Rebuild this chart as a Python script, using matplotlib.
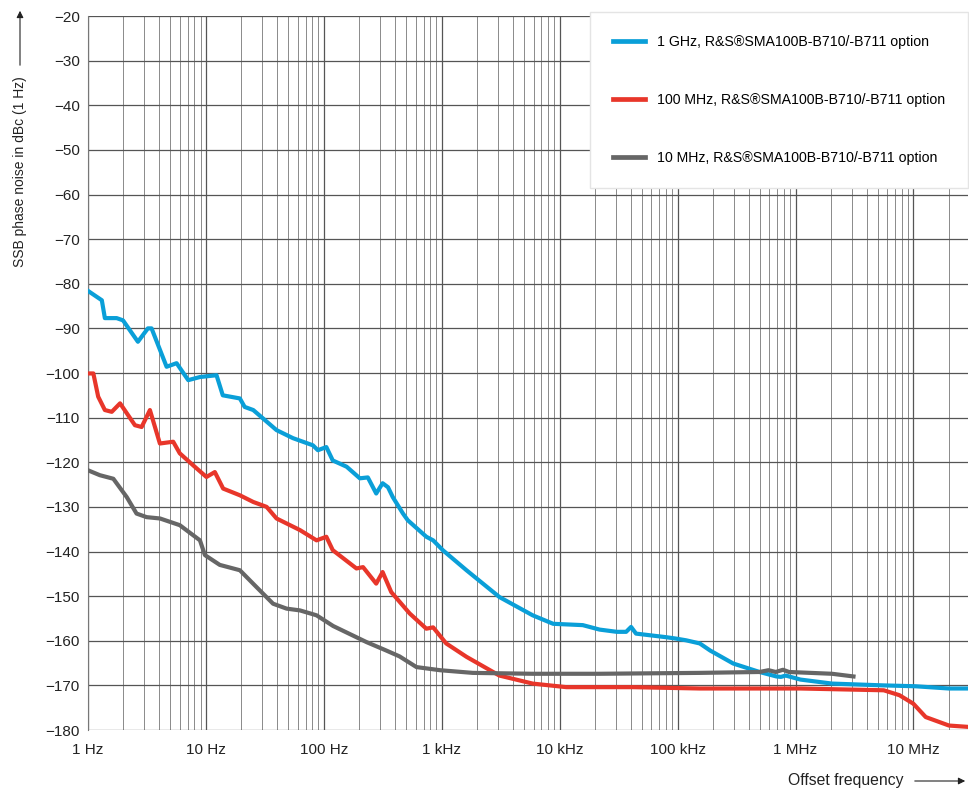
import matplotlib.pyplot as plt
from matplotlib.ticker import FixedLocator, LogLocator, NullFormatter
import numpy as np

plt.rcParams["font.family"] = ["Liberation Sans", "DejaVu Sans"]

# SSB phase noise: offset frequency in Hz, noise in dBc (1 Hz)
blue_f = [1.0, 1.31, 1.39, 1.75, 1.98, 2.65, 3.22, 3.46, 4.64, 5.64, 7.08, 8.9,
          12.3, 13.9, 19.4, 21.3, 25.2, 39.7, 54.7, 80.7, 89, 105, 119, 156,
          202, 236, 278, 315, 350, 384, 469, 515, 740, 845, 1020, 1620, 3080,
          5900, 8800, 15700, 21800, 30500, 36600, 40300, 44400, 79700, 96000,
          118000, 154000, 189000, 296000, 495000, 688000, 752000, 826000,
          1100000, 2040000, 5500000, 10400000, 20000000, 29000000]
blue_db = [-81.6, -83.7, -87.7, -87.7, -88.2, -93.0, -90.0, -90.0, -98.6, -97.8,
           -101.6, -100.9, -100.5, -105.0, -105.7, -107.6, -108.3, -112.8,
           -114.6, -116.2, -117.3, -116.6, -119.6, -121.0, -123.6, -123.4,
           -127.0, -124.7, -125.6, -127.8, -131.5, -133.0, -136.7, -137.5,
           -139.7, -144.2, -150.2, -154.3, -156.2, -156.5, -157.5, -158.0,
           -158.0, -156.9, -158.4, -159.2, -159.5, -159.9, -160.6, -162.2,
           -165.1, -167.0, -168.0, -168.1, -167.8, -168.7, -169.6, -170.0,
           -170.2, -170.7, -170.7]

red_f = [1.0, 1.11, 1.22, 1.39, 1.59, 1.87, 2.5, 2.85, 3.35, 4.07, 5.28, 6.0,
         7.8, 10.1, 11.9, 14.0, 19.4, 25.2, 32.7, 39.7, 62.7, 86.7, 105, 119,
         189, 215, 278, 315, 373, 535, 740, 845, 1090, 1620, 3080, 5900, 11400,
         42000, 154000, 1100000, 5600000, 7600000, 9970000, 12700000,
         20000000, 29000000]
red_db = [-100.1, -100.1, -105.3, -108.3, -108.7, -106.8, -111.7, -112.1,
          -108.3, -115.8, -115.4, -118.0, -120.7, -123.3, -122.2, -125.9,
          -127.4, -128.9, -130.0, -132.6, -135.2, -137.5, -136.7, -139.7,
          -143.8, -143.5, -147.2, -144.6, -149.1, -153.9, -157.3, -157.0,
          -160.6, -163.6, -167.8, -169.6, -170.4, -170.4, -170.7, -170.7,
          -171.1, -172.2, -174.1, -177.1, -179.0, -179.3]

gray_f = [1.0, 1.26, 1.64, 2.13, 2.58, 3.14, 4.08, 6.0, 8.9, 9.8, 13.1, 19.4,
          26, 37.1, 48.3, 62.7, 86.7, 120, 230, 339, 438, 610, 965, 1830, 5900,
          21800, 154000, 495000, 590000, 680000, 783000, 880000, 2040000,
          3100000]
gray_db = [-121.8, -122.9, -123.7, -127.8, -131.5, -132.3, -132.6, -134.1,
           -137.5, -140.8, -143.0, -144.2, -147.6, -151.7, -152.8, -153.2,
           -154.3, -156.7, -160.3, -162.2, -163.5, -165.9, -166.6, -167.2,
           -167.4, -167.4, -167.2, -167.0, -166.6, -167.0, -166.5, -167.0,
           -167.4, -168.0]

labels = [
    "1 GHz, R&S\u00aeSMA100B-B710/-B711 option",
    "100 MHz, R&S\u00aeSMA100B-B710/-B711 option",
    "10 MHz, R&S\u00aeSMA100B-B710/-B711 option",
]
colors = ["#0a9fd8", "#e8362a", "#666666"]

x_ticks = [1, 10, 100, 1e3, 1e4, 1e5, 1e6, 1e7]
x_tick_labels = ["1 Hz", "10 Hz", "100 Hz", "1 kHz", "10 kHz", "100 kHz", "1 MHz", "10 MHz"]
y_ticks = list(range(-180, -19, 10))


def main():
    fig = plt.figure(figsize=(9.69, 7.93), dpi=100)
    ax = fig.add_axes([88 / 969, 1 - 730 / 793, 880 / 969, 714 / 793])

    series = [(blue_f, blue_db), (red_f, red_db), (gray_f, gray_db)]
    for (f, db), color, label in zip(series, colors, labels):
        ax.plot(f, db, color=color, linewidth=3.0, label=label,
                solid_joinstyle="round", zorder=3)

    ax.set_xscale("log")
    ax.set_xlim(1, 2.9e7)
    ax.set_ylim(-180, -20)

    ax.xaxis.set_major_locator(FixedLocator(x_ticks))
    ax.set_xticklabels(x_tick_labels)
    ax.xaxis.set_minor_locator(LogLocator(base=10, subs=np.arange(2, 10), numticks=20))
    ax.xaxis.set_minor_formatter(NullFormatter())
    ax.set_yticks(y_ticks)
    ax.set_yticklabels([f"\u2212{abs(v)}" for v in y_ticks])

    ax.grid(which="major", axis="both", color="#555555", linewidth=0.9)
    ax.grid(which="minor", axis="x", color="#8a8a8a", linewidth=0.7)
    ax.tick_params(which="both", length=0, labelsize=11, colors="#222222", pad=6)
    ax.tick_params(axis="x", pad=9)
    for side in ["top", "right", "bottom"]:
        ax.spines[side].set_visible(False)
    ax.spines["left"].set_color("#777777")

    leg = ax.legend(loc="upper right", bbox_to_anchor=(1.0, 1.006),
                    frameon=True, fancybox=False, framealpha=1.0,
                    edgecolor="#e4e4e4", fontsize=10.2, handlelength=2.25,
                    handletextpad=0.8, labelspacing=3.1, borderpad=1.65,
                    borderaxespad=0.0)
    leg.set_zorder(5)
    for line in leg.get_lines():
        line.set_linewidth(3.4)

    fig.text(20 / 969, 1 - 172 / 793, "SSB phase noise in dBc (1 Hz)",
             rotation=90, ha="center", va="center", fontsize=10, color="#222222")
    fig.text(903 / 969, 1 - 781 / 793, "Offset frequency", ha="right",
             va="center", fontsize=11.3, color="#222222")
    fig.add_artist(plt.Annotation("", xy=(20 / 969, 1 - 8 / 793),
                                  xytext=(20 / 969, 1 - 68 / 793),
                                  xycoords="figure fraction",
                                  arrowprops=dict(arrowstyle="-|>", color="#222222",
                                                  lw=0.8, mutation_scale=10)))
    fig.add_artist(plt.Annotation("", xy=(968 / 969, 1 - 781 / 793),
                                  xytext=(912 / 969, 1 - 781 / 793),
                                  xycoords="figure fraction",
                                  arrowprops=dict(arrowstyle="-|>", color="#222222",
                                                  lw=0.8, mutation_scale=10)))

    fig.savefig("out.png", dpi=100)


if __name__ == "__main__":
    main()
